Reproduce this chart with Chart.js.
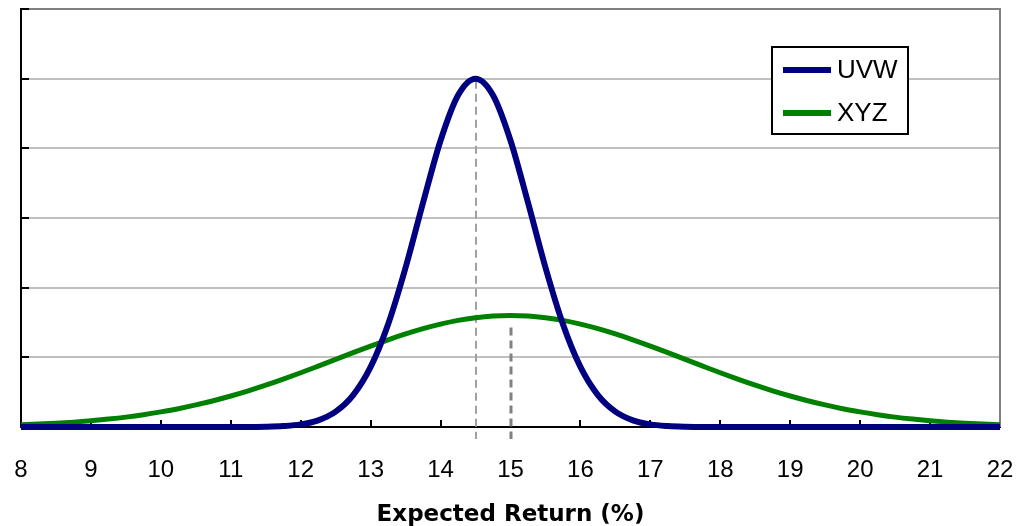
<!DOCTYPE html>
<html><head><meta charset="utf-8">
<script src="https://cdn.jsdelivr.net/npm/chart.js@4.4.1/dist/chart.umd.min.js"></script>
<style>html,body{margin:0;padding:0;background:#fff;}#wrap{width:1017px;height:526px;}</style>
</head><body><div id="wrap"><canvas id="c" width="1017" height="526"></canvas></div>
<script>
// Expected return (%) sample points
const returns = [8,8.25,8.5,8.75,9,9.25,9.5,9.75,10,10.25,10.5,10.75,11,11.25,11.5,11.75,12,12.25,12.5,12.75,13,13.25,13.5,13.75,14,14.25,14.5,14.75,15,15.25,15.5,15.75,16,16.25,16.5,16.75,17,17.25,17.5,17.75,18,18.25,18.5,18.75,19,19.25,19.5,19.75,20,20.25,20.5,20.75,21,21.25,21.5,21.75,22];
const uvw = [0,0,0,0,0,0,0,0,0,0,0,0,0,0,0.004,0.014,0.038,0.096,0.22,0.457,0.862,1.475,2.289,3.222,4.113,4.762,5.0,4.762,4.113,3.222,2.289,1.475,0.862,0.457,0.22,0.096,0.038,0.014,0.004,0,0,0,0,0,0,0,0,0,0,0,0,0,0,0,0,0,0];
const xyz = [0.032,0.042,0.054,0.07,0.09,0.114,0.142,0.176,0.217,0.263,0.317,0.377,0.445,0.519,0.6,0.687,0.779,0.874,0.97,1.067,1.162,1.252,1.336,1.412,1.477,1.53,1.568,1.592,1.6,1.592,1.568,1.53,1.477,1.412,1.336,1.252,1.162,1.067,0.97,0.874,0.779,0.687,0.6,0.519,0.445,0.377,0.317,0.263,0.217,0.176,0.142,0.114,0.09,0.07,0.054,0.042,0.032];
const seriesNames = ['UVW', 'XYZ'];
const seriesColors = ['#000080', '#008000'];
const meanReturns = [14.5, 15];
const meanHeights = [5.0, 1.6];
const xTickValues = [9,10,11,12,13,14,15,16,17,18,19,20,21];
const yTickValues = [1,2,3,4,5,6];
const xTitle = 'Expected Return (%)';

const toPoints = (ys) => returns.map((x, i) => ({x: x, y: ys[i]}));

const framePlugin = {
  id: 'frame',
  beforeDatasetsDraw(chart) {
    const {ctx, chartArea: a, scales: {x, y}} = chart;
    ctx.save();
    ctx.strokeStyle = '#808080'; ctx.lineWidth = 2;
    ctx.beginPath(); ctx.moveTo(a.right, a.top - 1); ctx.lineTo(a.right, a.bottom); ctx.stroke();
    ctx.strokeStyle = '#000'; ctx.lineWidth = 2;
    xTickValues.forEach(v => {
      const px = Math.round(x.getPixelForValue(v));
      ctx.beginPath(); ctx.moveTo(px, a.bottom); ctx.lineTo(px, a.bottom - 7); ctx.stroke();
    });
    yTickValues.forEach(v => {
      const py = Math.round(y.getPixelForValue(v));
      ctx.beginPath(); ctx.moveTo(a.left, py); ctx.lineTo(a.left + 8, py); ctx.stroke();
    });
    const styles = [{c: '#a0a0a0', w: 2}, {c: '#808080', w: 3}];
    meanReturns.forEach((m, i) => {
      const px = Math.round(x.getPixelForValue(m));
      const top = y.getPixelForValue(meanHeights[i]) + (i === 0 ? 2 : 12);
      ctx.strokeStyle = styles[i].c; ctx.lineWidth = styles[i].w;
      ctx.setLineDash([8, 5]);
      ctx.beginPath(); ctx.moveTo(px, top); ctx.lineTo(px, a.bottom + 12); ctx.stroke();
    });
    ctx.restore();
  },
  afterDraw(chart) {
    const {ctx, chartArea: a} = chart;
    ctx.save();
    const bx = a.right - 228, by = a.top + 38, bw = 136, bh = 87;
    ctx.fillStyle = '#fff'; ctx.fillRect(bx, by, bw, bh);
    ctx.strokeStyle = '#000'; ctx.lineWidth = 2;
    ctx.strokeRect(bx, by, bw, bh);
    ctx.font = '26px "Liberation Sans", Arial, sans-serif';
    ctx.textBaseline = 'middle';
    ctx.fillStyle = '#000';
    seriesNames.forEach((n, i) => {
      const ly = by + 23 + i * 43;
      ctx.strokeStyle = seriesColors[i]; ctx.lineWidth = 6;
      ctx.beginPath(); ctx.moveTo(bx + 11, ly); ctx.lineTo(bx + 59, ly); ctx.stroke();
      ctx.fillText(n, bx + 65, ly + 1);
    });
    ctx.restore();
  }
};

new Chart(document.getElementById('c'), {
  type: 'line',
  data: {
    datasets: [
      {label: seriesNames[0], data: toPoints(uvw), borderColor: seriesColors[0], borderWidth: 6, pointRadius: 0, cubicInterpolationMode: 'monotone', clip: false, order: 1},
      {label: seriesNames[1], data: toPoints(xyz), borderColor: seriesColors[1], borderWidth: 5, pointRadius: 0, cubicInterpolationMode: 'monotone', clip: false, order: 2}
    ]
  },
  options: {
    responsive: false, animation: false, devicePixelRatio: 1,
    layout: {padding: {left: 21, top: 9, right: 17, bottom: 0}},
    plugins: {legend: {display: false}, tooltip: {enabled: false}},
    scales: {
      x: {
        type: 'linear', min: 8, max: 22,
        afterFit: s => { s.height = 99; },
        ticks: {stepSize: 1, padding: 0, color: '#000', font: {family: '"Liberation Sans", Arial, sans-serif', size: 24}},
        grid: {display: true, drawOnChartArea: false, drawTicks: true, tickLength: 29, tickColor: 'rgba(0,0,0,0)'},
        border: {display: true, color: '#000', width: 2},
        title: {display: true, text: xTitle, color: '#000', padding: {top: 4, bottom: -3}, font: {family: '"DejaVu Sans", Verdana, sans-serif', size: 23, weight: 'bold'}}
      },
      y: {
        min: 0, max: 6,
        afterFit: s => { s.width = 0; },
        ticks: {display: false, stepSize: 1},
        grid: {drawTicks: false, lineWidth: 2, color: c => (c.tick && c.tick.value === 6) ? '#808080' : '#c0c0c0'},
        border: {display: true, color: '#000', width: 2}
      }
    }
  },
  plugins: [framePlugin]
});
</script></body></html>
